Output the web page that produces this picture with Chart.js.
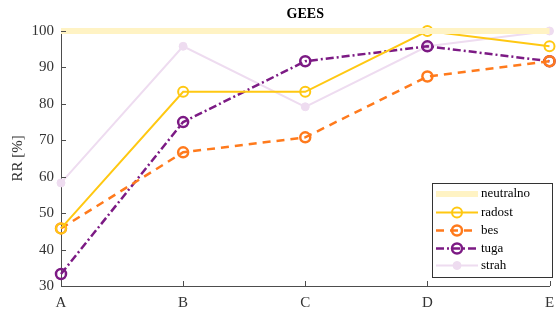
<!DOCTYPE html>
<html>
<head>
<meta charset="utf-8">
<script src="https://cdn.jsdelivr.net/npm/chart.js@4.4.1/dist/chart.umd.min.js"></script>
<style>
  html, body { margin: 0; padding: 0; background: #fff; }
  #wrap { width: 557px; height: 311px; }
</style>
</head>
<body>
<div id="wrap"><canvas id="myChart" width="557" height="311"></canvas></div>
<script>
const categories = ['A', 'B', 'C', 'D', 'E']
const neutralno = [100, 100, 100, 100, 100]
const radost = [45.8, 83.3, 83.3, 100, 95.8]
const bes = [45.8, 66.7, 70.8, 87.5, 91.7]
const tuga = [33.3, 75, 91.7, 95.8, 91.7]
const strah = [58.3, 95.8, 79.2, 95.8, 100]
const yTicks = [30, 40, 50, 60, 70, 80, 90, 100]

const serif = '"Liberation Serif", "DejaVu Serif", serif'
const axisColor = '#4d4d4d'

// matlab style ticks pointing inward
const innerTicks = {
    id: 'innerTicks',
    afterDraw(chart) {
        const ctx = chart.ctx
        const { left, bottom } = chart.chartArea
        ctx.save()
        ctx.strokeStyle = axisColor
        ctx.lineWidth = 1
        const x = chart.scales.x
        x.ticks.forEach((t, i) => {
            const px = Math.round(x.getPixelForTick(i)) + 0.5
            ctx.beginPath()
            ctx.moveTo(px, bottom)
            ctx.lineTo(px, bottom - 5)
            ctx.stroke()
        })
        const y = chart.scales.y
        y.ticks.forEach((t, i) => {
            const py = Math.round(y.getPixelForTick(i)) + 0.5
            ctx.beginPath()
            ctx.moveTo(left, py)
            ctx.lineTo(left + 5, py)
            ctx.stroke()
        })
        ctx.restore()
    }
}

// title centred over the plot area
const plotTitle = {
    id: 'plotTitle',
    afterDraw(chart) {
        const ctx = chart.ctx
        const { left, right } = chart.chartArea
        ctx.save()
        ctx.font = 'bold 14px ' + serif
        ctx.fillStyle = '#000'
        ctx.textAlign = 'center'
        ctx.textBaseline = 'middle'
        ctx.fillText('GEES', (left + right) / 2, 14)
        ctx.restore()
    }
}

// legend box inside the axes, bottom right
const boxLegend = {
    id: 'boxLegend',
    afterDraw(chart) {
        const ctx = chart.ctx
        const bx = 432.5, by = 183.5, bw = 120, bh = 94
        ctx.save()
        ctx.fillStyle = '#fff'
        ctx.fillRect(bx, by, bw, bh)
        ctx.strokeStyle = '#333'
        ctx.lineWidth = 1
        ctx.strokeRect(bx, by, bw, bh)
        const rows = [194, 212.5, 230.5, 248.5, 265.5]
        chart.data.datasets.forEach((ds, i) => {
            const y = rows[i]
            ctx.strokeStyle = ds.borderColor
            ctx.lineWidth = ds.borderWidth
            ctx.setLineDash(ds.borderDash || [])
            ctx.beginPath()
            ctx.moveTo(436, y)
            ctx.lineTo(478, y)
            ctx.stroke()
            ctx.setLineDash([])
            if (ds.pointRadius > 0) {
                ctx.beginPath()
                ctx.arc(457, y, ds.pointRadius, 0, Math.PI * 2)
                if (ds.pointBackgroundColor !== 'transparent') {
                    ctx.fillStyle = ds.pointBackgroundColor
                    ctx.fill()
                }
                ctx.lineWidth = ds.pointBorderWidth
                ctx.strokeStyle = ds.pointBorderColor
                ctx.stroke()
            }
            ctx.fillStyle = '#000'
            ctx.font = '13px ' + serif
            ctx.textAlign = 'left'
            ctx.textBaseline = 'middle'
            ctx.fillText(ds.label, 481, y)
        })
        ctx.restore()
    }
}

const chart = new Chart(document.getElementById('myChart'), {
    type: 'line',
    data: {
        labels: categories,
        datasets: [
            {
                label: 'neutralno', data: neutralno,
                borderColor: '#fff3c4', borderWidth: 6,
                pointRadius: 0, pointBorderWidth: 0
            },
            {
                label: 'radost', data: radost,
                borderColor: '#ffc812', borderWidth: 2,
                pointRadius: 5, pointBorderWidth: 2,
                pointBorderColor: '#ffc812', pointBackgroundColor: 'transparent'
            },
            {
                label: 'bes', data: bes,
                borderColor: '#ff7a1c', borderWidth: 2.5, borderDash: [8, 6],
                pointRadius: 5, pointBorderWidth: 2.5,
                pointBorderColor: '#ff7a1c', pointBackgroundColor: 'transparent'
            },
            {
                label: 'tuga', data: tuga,
                borderColor: '#7c1a84', borderWidth: 2.5, borderDash: [8, 3, 2, 3],
                pointRadius: 5, pointBorderWidth: 2.5,
                pointBorderColor: '#7c1a84', pointBackgroundColor: 'transparent'
            },
            {
                label: 'strah', data: strah,
                borderColor: '#eedcf0', borderWidth: 2,
                pointRadius: 4, pointBorderWidth: 1,
                pointBorderColor: '#eedcf0', pointBackgroundColor: '#eedcf0'
            }
        ]
    },
    options: {
        responsive: false,
        animation: false,
        devicePixelRatio: 1,
        layout: { padding: { top: 31, right: 5, left: 0, bottom: 0 } },
        datasets: { line: { clip: false } },
        plugins: {
            legend: { display: false },
            title: { display: false },
            tooltip: { enabled: false }
        },
        elements: { line: { tension: 0 } },
        scales: {
            x: {
                offset: false,
                grid: { display: false, drawTicks: false },
                border: { color: axisColor, width: 1 },
                ticks: { color: '#333', padding: 8, font: { family: serif, size: 15 } },
                afterFit: (scale) => {
                    scale.height = 25
                    scale.paddingLeft = 0
                    scale.paddingRight = 0
                }
            },
            y: {
                min: 30, max: 100,
                afterBuildTicks: (scale) => { scale.ticks = yTicks.map(v => ({ value: v })) },
                grid: { display: false, drawTicks: false },
                border: { color: axisColor, width: 1 },
                ticks: { color: '#333', padding: 7, font: { family: serif, size: 15 } },
                title: {
                    display: true, text: 'RR [%]', color: '#333', padding: { top: 9, bottom: 0 },
                    font: { family: serif, size: 15 }
                },
                afterFit: (scale) => { scale.width = 61 }
            }
        }
    },
    plugins: [innerTicks, plotTitle, boxLegend]
})
</script>
</body>
</html>
